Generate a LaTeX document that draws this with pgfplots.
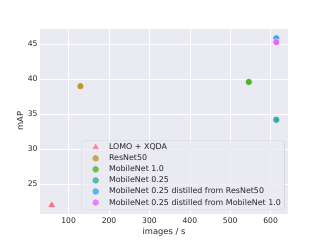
\documentclass[border=0pt]{standalone}
\usepackage{fontspec}
\setmainfont{DejaVu Sans}
\usepackage{pgfplots}
\pgfplotsset{compat=1.18}
\definecolor{bg}{HTML}{EAEAF2}
\definecolor{tickc}{HTML}{262626}
\definecolor{legedge}{HTML}{CCCCCC}
\definecolor{c1}{rgb}{0.9678,0.4413,0.5358}
\definecolor{c2}{rgb}{0.7350,0.5953,0.1944}
\definecolor{c3}{rgb}{0.3127,0.6929,0.1924}
\definecolor{c4}{rgb}{0.2104,0.6773,0.6434}
\definecolor{c5}{rgb}{0.2234,0.6475,0.9168}
\definecolor{c6}{rgb}{0.9083,0.4020,0.9577}
\pgfplotsset{
  dot legend/.style={legend image code/.code={\path (0,0) (32pt,0); \draw[##1, mark size=5.2pt] plot coordinates {(17pt,0pt)};}},
  tri legend/.style={legend image code/.code={\path (0,0) (32pt,0); \draw[##1, mark size=6.5pt] plot coordinates {(17pt,0pt)};}},
}
\begin{document}
\begin{tikzpicture}
\begin{axis}[
  scale only axis, width=357.1pt, height=266.1pt,
  xmin=29, xmax=643, ymin=20.8, ymax=47.2,
  axis background/.style={fill=bg},
  axis line style={draw=none},
  grid=major, major grid style={white, line width=1pt},
  tick style={draw=none},
  xtick={100,200,300,400,500,600}, ytick={25,30,35,40,45},
  /pgf/number format/assume math mode=true,
  ticklabel style={font=\fontsize{11}{13}\selectfont, text=tickc},
  xticklabel style={yshift=-2pt},
  xlabel={images / s}, ylabel={mAP},
  label style={font=\fontsize{12}{14}\selectfont, text=tickc},
  legend style={at={(rel axis cs:0.986,0.021)}, anchor=south east,
    fill=bg, fill opacity=0.8, text opacity=1, draw=legedge, rounded corners=2pt,
    font=\fontsize{11.4}{13}\selectfont, text=tickc, row sep=1.8pt,
    inner xsep=3pt, inner ysep=3pt, column sep=2pt},
  dot legend,
  legend cell align=left,
  clip=false,
]
\addplot[only marks, mark=triangle*, mark size=6.5pt, mark options={fill=c1, draw=white, line width=0.4pt}, tri legend] coordinates {(58,22.0)};
\addlegendentry{LOMO + XQDA}
\addplot[only marks, mark=*, mark size=5pt, mark options={fill=c2, draw=white, line width=0.4pt}] coordinates {(129,39.0)};
\addlegendentry{ResNet50}
\addplot[only marks, mark=*, mark size=5pt, mark options={fill=c3, draw=white, line width=0.4pt}] coordinates {(546,39.6)};
\addlegendentry{MobileNet 1.0}
\addplot[only marks, mark=*, mark size=5pt, mark options={fill=c4, draw=white, line width=0.4pt}] coordinates {(614,34.2)};
\addlegendentry{MobileNet 0.25}
\addplot[only marks, mark=*, mark size=5pt, mark options={fill=c5, draw=white, line width=0.4pt}] coordinates {(614,45.85)};
\addlegendentry{MobileNet 0.25 distilled from ResNet50}
\addplot[only marks, mark=*, mark size=5pt, mark options={fill=c6, draw=white, line width=0.4pt}] coordinates {(614,45.3)};
\addlegendentry{MobileNet 0.25 distilled from MobileNet 1.0}
\coordinate (bl) at (rel axis cs:-0.16129,-0.142857);
\coordinate (tr) at (rel axis cs:1.12903,1.155844);
\end{axis}
\pgfresetboundingbox
\path[use as bounding box] (bl) rectangle (tr);
\end{tikzpicture}
\end{document}
